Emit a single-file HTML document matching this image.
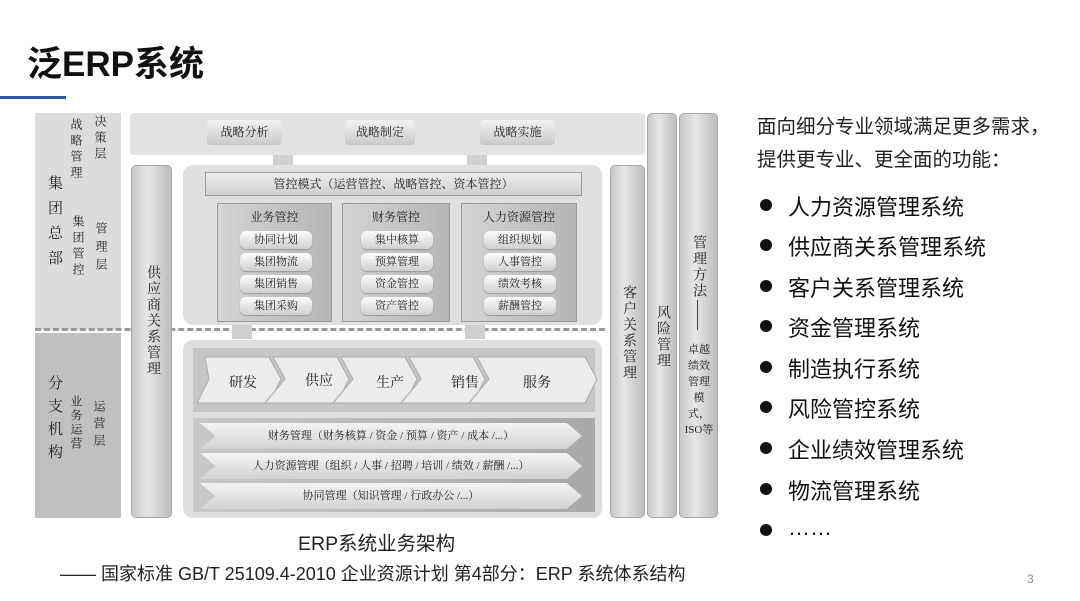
<!DOCTYPE html>
<html><head><meta charset="utf-8">
<style>
*{margin:0;padding:0;box-sizing:border-box}
body{width:1080px;height:601px;background:#fff;position:relative;overflow:hidden;font-family:"Liberation Sans","Noto Sans CJK SC",sans-serif;color:#111}
.a{position:absolute}
.serif{font-family:"Liberation Serif","Noto Serif CJK SC",serif;color:#222}
.vt{writing-mode:vertical-rl;text-orientation:upright;font-family:"Liberation Serif","Noto Serif CJK SC",serif;color:#222;letter-spacing:3px}
.col{background:linear-gradient(90deg,#c8c8c8,#e6e6e6 40%,#bdbdbd);border:1px solid #a8a8a8;border-radius:5px}
.btn{background:linear-gradient(180deg,#f2f2f2,#c9c9c9);border-radius:4px;font-size:12px;text-align:center;line-height:25px}
.pill{position:absolute;left:22px;width:72px;height:18px;border-radius:6px;background:linear-gradient(180deg,#fdfdfd,#cfcfcf);font-size:11px;text-align:center;line-height:18px;font-family:"Liberation Serif","Noto Serif CJK SC",serif;box-shadow:0 1px 1px #999}
.sub{position:absolute;top:38px;width:auto;height:119px;background:linear-gradient(90deg,#d4d4d4,#b5b5b5);border:1px solid #999}
.sub .h{font-size:12px;text-align:center;margin-top:4px}
.bar{position:absolute;left:200px;width:382px;height:26px;font-size:11px;line-height:26px;text-align:center;background:linear-gradient(180deg,#f4f4f4,#d2d2d2);clip-path:polygon(0 0,96% 0,100% 50%,96% 100%,0 100%,4% 50%)}
.li{position:absolute;left:763px;font-size:22px;color:#111}
.li:before{content:"";position:absolute;left:-3px;top:9px;width:12px;height:12px;border-radius:50%;background:#111}
.li span{margin-left:25px}
</style></head><body>
<div class="a" style="left:27px;top:36px;font-size:35px;font-weight:bold;letter-spacing:0px">泛ERP系统</div>
<div class="a" style="left:0;top:96px;width:66px;height:3px;background:#2e55a0"></div>

<!-- left panels -->
<div class="a" style="left:35px;top:113px;width:86px;height:217px;background:#dcdcdc"></div>
<div class="a" style="left:35px;top:333px;width:86px;height:185px;background:#c0c0c0"></div>
<div class="a vt" style="left:44px;top:175px;font-size:15px;letter-spacing:10px">集团总部</div>
<div class="a vt" style="left:68px;top:118px;font-size:12px;letter-spacing:4px">战略管理</div>
<div class="a vt" style="left:92px;top:115px;font-size:12px;letter-spacing:4px">决策层</div>
<div class="a vt" style="left:70px;top:215px;font-size:12px;letter-spacing:4px">集团管控</div>
<div class="a vt" style="left:93px;top:222px;font-size:12px;letter-spacing:6px">管理层</div>
<div class="a vt" style="left:44px;top:375px;font-size:15px;letter-spacing:8px">分支机构</div>
<div class="a vt" style="left:68px;top:395px;font-size:12px;letter-spacing:2px">业务运营</div>
<div class="a vt" style="left:91px;top:400px;font-size:12px;letter-spacing:5px">运营层</div>
<div class="a" style="left:35px;top:328px;width:570px;border-top:3px dashed #999"></div>

<!-- strategy bar -->
<div class="a" style="left:130px;top:113px;width:515px;height:42px;background:#e2e2e2;border-radius:4px"></div>
<div class="a btn serif" style="left:207px;top:120px;width:75px">战略分析</div>
<div class="a btn serif" style="left:345px;top:120px;width:70px">战略制定</div>
<div class="a btn serif" style="left:480px;top:120px;width:75px">战略实施</div>
<div class="a" style="left:273px;top:155px;width:20px;height:10px;background:#d0d0d0"></div>
<div class="a" style="left:467px;top:155px;width:20px;height:10px;background:#d0d0d0"></div>

<!-- columns -->
<div class="a col" style="left:131px;top:165px;width:41px;height:353px"></div>
<div class="a vt" style="left:142px;top:265px;font-size:14px;letter-spacing:2px">供应商关系管理</div>
<div class="a col" style="left:610px;top:165px;width:35px;height:353px"></div>
<div class="a vt" style="left:618px;top:285px;font-size:14px;letter-spacing:2px">客户关系管理</div>
<div class="a col" style="left:647px;top:113px;width:30px;height:405px"></div>
<div class="a vt" style="left:652px;top:305px;font-size:14px;letter-spacing:2px">风险管理</div>
<div class="a col" style="left:679px;top:113px;width:39px;height:405px"></div>
<div class="a vt" style="left:688px;top:235px;font-size:14px;letter-spacing:2px">管理方法</div>
<div class="a" style="left:697px;top:300px;width:1px;height:30px;background:#444"></div>
<div class="a serif" style="left:684px;top:342px;width:30px;font-size:11px;line-height:16px;text-align:center">卓越绩效管理模式，ISO等</div>

<!-- upper box -->
<div class="a" style="left:183px;top:165px;width:419px;height:160px;background:#e0e0e0;border-radius:10px"></div>
<div class="a serif" style="left:205px;top:172px;width:377px;height:24px;background:linear-gradient(180deg,#ededed,#cfcfcf);border:1px solid #999;font-size:12px;text-align:center;line-height:22px">管控模式（运营管控、战略管控、资本管控）</div>
<div class="sub serif" style="left:217px;top:203px;width:115px"><div class="h">业务管控</div>
<div class="pill" style="top:27px">协同计划</div><div class="pill" style="top:49px">集团物流</div><div class="pill" style="top:71px">集团销售</div><div class="pill" style="top:93px">集团采购</div></div>
<div class="sub serif" style="left:342px;top:203px;width:108px"><div class="h">财务管控</div>
<div class="pill" style="top:27px;left:18px">集中核算</div><div class="pill" style="top:49px;left:18px">预算管理</div><div class="pill" style="top:71px;left:18px">资金管控</div><div class="pill" style="top:93px;left:18px">资产管控</div></div>
<div class="sub serif" style="left:461px;top:203px;width:116px"><div class="h">人力资源管控</div>
<div class="pill" style="top:27px">组织规划</div><div class="pill" style="top:49px">人事管控</div><div class="pill" style="top:71px">绩效考核</div><div class="pill" style="top:93px">薪酬管控</div></div>
<div class="a" style="left:232px;top:325px;width:20px;height:14px;background:#cfcfcf"></div>
<div class="a" style="left:465px;top:325px;width:20px;height:14px;background:#cfcfcf"></div>

<!-- lower box -->
<div class="a" style="left:183px;top:340px;width:419px;height:178px;background:#dedede;border-radius:10px"></div>
<div class="a" style="left:193px;top:348px;width:402px;height:64px;background:#c6c6c6"></div>
<div class="a" style="left:193px;top:418px;width:402px;height:94px;background:linear-gradient(90deg,#c8c8c8,#a8a8a8)"></div>
<svg class="a" style="left:193px;top:355px" width="410" height="52">
<g fill="#ececec" stroke="#aaa">
<polygon points="12,2 76,2 88,24 76,48 4,48 16,24"/>
<polygon points="80,2 144,2 156,24 144,48 72,48 92,24"/>
<polygon points="148,2 212,2 224,24 212,48 140,48 160,24"/>
<polygon points="216,2 280,2 292,24 280,48 208,48 228,24"/>
<polygon points="284,2 392,2 404,24 392,48 276,48 296,24"/>
</g>
<g font-family="Liberation Serif,Noto Serif CJK SC,serif" font-size="14" fill="#222">
<text x="36" y="32">研发</text><text x="112" y="30">供应</text><text x="183" y="32">生产</text><text x="258" y="32">销售</text><text x="330" y="32">服务</text></g>
</svg>
<div class="a bar serif" style="top:423px">财务管理（财务核算 / 资金 / 预算 / 资产 / 成本 /...）</div>
<div class="a bar serif" style="top:453px">人力资源管理（组织 / 人事 / 招聘 / 培训 / 绩效 / 薪酬 /...）</div>
<div class="a bar serif" style="top:483px">协同管理（知识管理 / 行政办公 /...）</div>

<div class="a" style="left:298px;top:527px;font-size:19.5px;color:#222">ERP系统业务架构</div>
<div class="a" style="left:60px;top:560px;font-size:18px;color:#222;white-space:nowrap">—— 国家标准 GB/T 25109.4-2010 企业资源计划 第4部分：ERP 系统体系结构</div>

<div class="a" style="left:757px;top:111px;font-size:19.5px;line-height:33px;color:#222">面向细分专业领域满足更多需求，<br>提供更专业、更全面的功能：</div>
<div class="li" style="top:190px"><span>人力资源管理系统</span></div>
<div class="li" style="top:230px"><span>供应商关系管理系统</span></div>
<div class="li" style="top:271px"><span>客户关系管理系统</span></div>
<div class="li" style="top:311px"><span>资金管理系统</span></div>
<div class="li" style="top:352px"><span>制造执行系统</span></div>
<div class="li" style="top:392px"><span>风险管控系统</span></div>
<div class="li" style="top:433px"><span>企业绩效管理系统</span></div>
<div class="li" style="top:474px"><span>物流管理系统</span></div>
<div class="li" style="top:515px"><span>……</span></div>
<div class="a" style="left:1027px;top:572px;font-size:12px;color:#888">3</div>
</body></html>
